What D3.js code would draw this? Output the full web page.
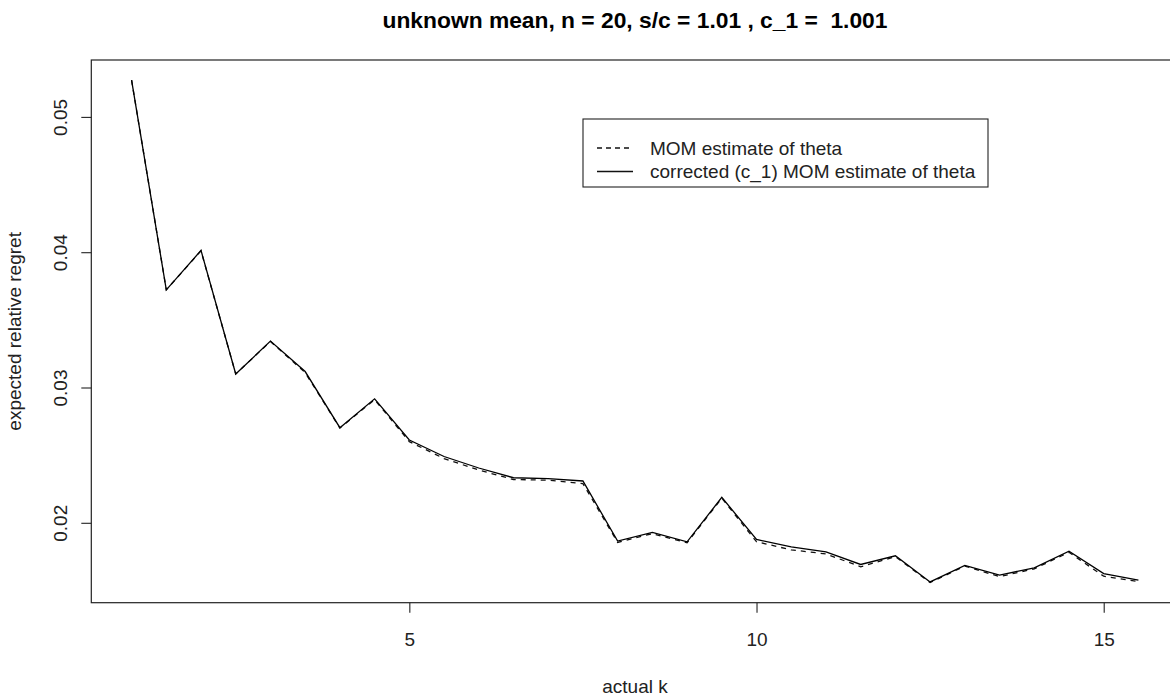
<!DOCTYPE html>
<html>
<head>
<meta charset="utf-8">
<script src="https://cdn.jsdelivr.net/npm/d3@7"></script>
<style>
  html, body { margin: 0; padding: 0; background: #fff; overflow: hidden; }
  svg { display: block; font-family: "Liberation Sans", Arial, sans-serif; }
  text { white-space: pre; }
</style>
</head>
<body>
<svg id="chart" width="1170" height="700"></svg>
<script>
// actual k values
const actualK = [1, 1.5, 2, 2.5, 3, 3.5, 4, 4.5, 5, 5.5, 6, 6.5, 7, 7.5, 8,
                 8.5, 9, 9.5, 10, 10.5, 11, 11.5, 12, 12.5, 13, 13.5, 14, 14.5, 15, 15.5];

// expected relative regret, MOM estimate of theta
const regretMOM = [0.05272, 0.03722, 0.04010, 0.03100, 0.03340, 0.03110, 0.02700, 0.02910,
                   0.02600, 0.02475, 0.02390, 0.02320, 0.02315, 0.02290, 0.01855, 0.01920,
                   0.01852, 0.02182, 0.01860, 0.01800, 0.01770, 0.01675, 0.01750, 0.01558,
                   0.01680, 0.01602, 0.01660, 0.01782, 0.01605, 0.01565];

// expected relative regret, corrected (c_1) MOM estimate of theta
const regretCorrected = [0.05272, 0.03722, 0.04013, 0.03100, 0.03343, 0.03118, 0.02703, 0.02916,
                         0.02612, 0.02490, 0.02405, 0.02333, 0.02326, 0.02309, 0.01865, 0.01929,
                         0.01859, 0.02188, 0.01877, 0.01822, 0.01785, 0.01692, 0.01756, 0.01563,
                         0.01685, 0.01613, 0.01667, 0.01790, 0.01625, 0.01576];

const xTicks = [5, 10, 15];
const yTicks = [0.02, 0.03, 0.04, 0.05];

const titleText = "unknown mean, n = 20, s/c = 1.01 , c_1 =  1.001";
const xLabel = "actual k";
const yLabel = "expected relative regret";
const legendLabels = ["MOM estimate of theta", "corrected (c_1) MOM estimate of theta"];

const FONT = 19;          // axis, tick and legend text
const TITLE_FONT = 22.8;  // bold main title

const svg = d3.select("#chart");
const plot = { left: 91.3, top: 60, right: 1178.7, bottom: 602.7 };

// 4% padding on each side of the data range
function padded(ext) {
  const p = (ext[1] - ext[0]) * 0.04;
  return [ext[0] - p, ext[1] + p];
}

const x = d3.scaleLinear()
  .domain(padded(d3.extent(actualK)))
  .range([plot.left, plot.right]);

const y = d3.scaleLinear()
  .domain(padded(d3.extent(regretMOM.concat(regretCorrected))))
  .range([plot.bottom, plot.top]);

// plot frame
svg.append("rect")
  .attr("x", plot.left).attr("y", plot.top)
  .attr("width", plot.right - plot.left).attr("height", plot.bottom - plot.top)
  .attr("fill", "none").attr("stroke", "#222").attr("stroke-width", 1.2);

// x axis
const xAxis = svg.append("g")
  .attr("transform", `translate(0,${plot.bottom})`)
  .call(d3.axisBottom(x).tickValues(xTicks).tickSize(10).tickFormat(d3.format("d")));
xAxis.select(".domain").remove();
xAxis.selectAll(".tick line").attr("stroke", "#222").attr("stroke-width", 1.1);
xAxis.selectAll(".tick text")
  .attr("y", 646 - plot.bottom).attr("dy", null)
  .attr("font-size", FONT).attr("fill", "#222")
  .attr("font-family", "Liberation Sans, Arial, sans-serif");

// y axis
const yAxis = svg.append("g")
  .attr("transform", `translate(${plot.left},0)`)
  .call(d3.axisLeft(y).tickValues(yTicks).tickSize(10).tickFormat(d3.format(".2f")));
yAxis.select(".domain").remove();
yAxis.selectAll(".tick line").attr("stroke", "#222").attr("stroke-width", 1.1);
yAxis.selectAll(".tick text")
  .attr("x", null).attr("dy", null)
  .attr("text-anchor", "middle")
  .attr("transform", `translate(${66.5 - plot.left},0) rotate(-90)`)
  .attr("font-size", FONT).attr("fill", "#222")
  .attr("font-family", "Liberation Sans, Arial, sans-serif");

// series lines
const line = d3.line().x((d, i) => x(actualK[i])).y(d => y(d));

svg.append("path")
  .datum(regretMOM)
  .attr("d", line)
  .attr("fill", "none").attr("stroke", "#111").attr("stroke-width", 1.3)
  .attr("stroke-dasharray", "5,5");

svg.append("path")
  .datum(regretCorrected)
  .attr("d", line)
  .attr("fill", "none").attr("stroke", "#000").attr("stroke-width", 1.3);

// title
svg.append("text")
  .attr("x", (plot.left + plot.right) / 2).attr("y", 28)
  .attr("text-anchor", "middle")
  .attr("font-size", TITLE_FONT).attr("font-weight", "bold").attr("fill", "#000")
  .text(titleText);

// axis titles
svg.append("text")
  .attr("x", (plot.left + plot.right) / 2).attr("y", 693)
  .attr("text-anchor", "middle")
  .attr("font-size", FONT).attr("fill", "#222")
  .text(xLabel);

svg.append("text")
  .attr("transform", `translate(21,${(plot.top + plot.bottom) / 2}) rotate(-90)`)
  .attr("text-anchor", "middle")
  .attr("font-size", FONT).attr("fill", "#222")
  .text(yLabel);

// legend
const legend = svg.append("g");
legend.append("rect")
  .attr("x", 583).attr("y", 119).attr("width", 405).attr("height", 68)
  .attr("fill", "#fff").attr("stroke", "#222").attr("stroke-width", 1.1);

const legendRows = [
  { label: legendLabels[0], dash: "5,4" },
  { label: legendLabels[1], dash: null }
];
legendRows.forEach((r, i) => {
  const cy = 148 + i * 23.5;
  legend.append("line")
    .attr("x1", 597).attr("x2", 633).attr("y1", cy).attr("y2", cy)
    .attr("stroke", "#111").attr("stroke-width", 1.3)
    .attr("stroke-dasharray", r.dash);
  legend.append("text")
    .attr("x", 650).attr("y", cy + 6.8)
    .attr("font-size", FONT).attr("fill", "#222")
    .text(r.label);
});
</script>
</body>
</html>
